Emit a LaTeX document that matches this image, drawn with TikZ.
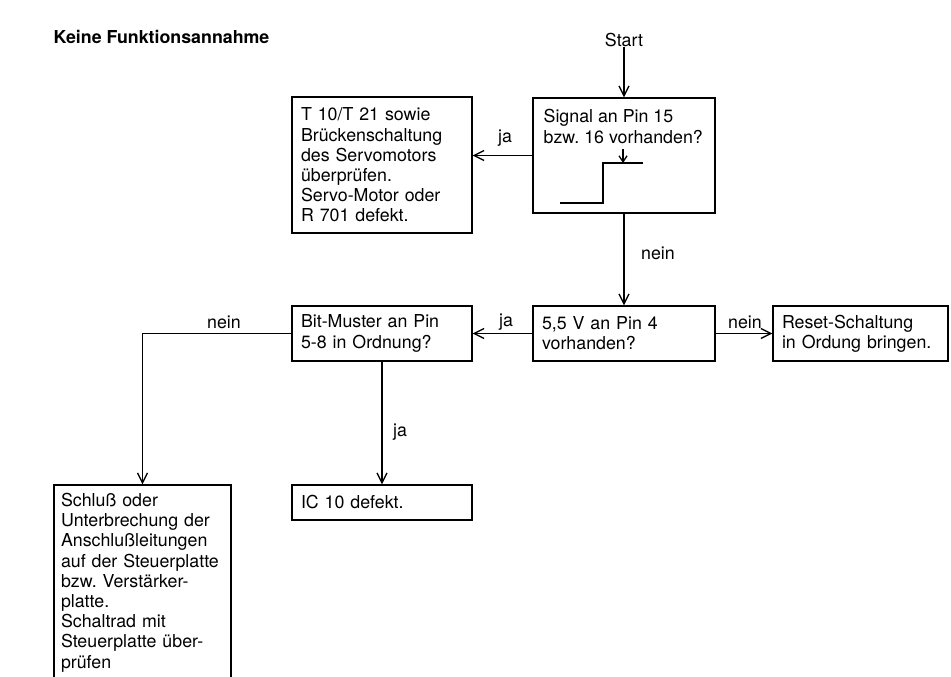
\documentclass[tikz,border=0pt]{standalone}
\usepackage{fontspec}
\setmainfont{TeX Gyre Heros}
\frenchspacing
\usetikzlibrary{arrows.meta,positioning}
\tikzset{
  >={Straight Barb[length=10pt,width=10pt]},
  line cap=round,
  line join=round,
  every picture/.style={line width=1.3pt},
  txt/.style={font=\fontsize{17.8}{20.2}\selectfont},
  box/.style={draw, txt, rectangle, inner xsep=9pt, inner ysep=0pt, align=left},
  lbl/.style={txt, inner sep=0pt},
  arrow/.style={->}
}

\begin{document}
\begin{tikzpicture}[x=1pt, y=-1pt]
  \useasboundingbox (0,0) rectangle (951,677);
  \clip (0,0) rectangle (951,677);

  \node[lbl, anchor=west, font={\fontsize{17.8}{20.2}\selectfont\bfseries}] (titel) at (53,37) {Keine Funktionsannahme};
  \node[lbl] (start) at (624,40) {Start};

  % Zeile 1
  \node[box, minimum width=182pt, minimum height=115pt] (signal) at (624,155.5) {};
  \node[lbl, anchor=north west, align=left] (signaltxt) at (543,109) {Signal an Pin 15\\bzw. 16 vorhanden?};
  \node[box, text width=162pt, minimum height=136pt] (servo) at (382,165)
    {T 10/T 21 sowie\\Brückenschaltung\\des Servomotors\\überprüfen.\\Servo-Motor oder\\R 701 defekt.};

  % Impuls im Signalkasten
  \draw (560,203) -- (603,203) -- (603,163) -- (643,163);
  \coordinate (flanke) at (623,163);
  \draw[->, >={Straight Barb[length=6pt,width=8pt]}] (623,149) -- (flanke);

  % Zeile 2
  \node[box, text width=164pt, minimum height=55pt] (spannung) at (624,333.5) {5,5 V an Pin 4\\vorhanden?};
  \node[box, text width=162pt, minimum height=55pt] (bitmuster) at (382,333.5) {Bit-Muster an Pin\\5-8 in Ordnung?};
  \node[box, text width=157pt, minimum height=55pt] (reset) at (860.5,333.5) {Reset-Schaltung\\in Ordung bringen.};

  % Zeile 3
  \node[box, text width=162pt, minimum height=35pt] (icdef) at (382,502.5) {IC 10 defekt.};
  \node[box, inner xsep=7pt, text width=163pt, minimum height=195pt] (schluss) at (142.5,582.5)
    {Schluß oder\\Unterbrechung der\\Anschlußleitungen\\auf der Steuerplatte\\bzw. Verstärker-\\platte.\\Schaltrad mit\\Steuerplatte über-\\prüfen};

  % Verbindungen
  \draw[arrow] (start) -- (signal);
  \draw[arrow] (signal.west) -- (signal.west -| servo.east);
  \node[lbl] (ja1) at (505,138) {ja};
  \draw[arrow] (signal) -- (spannung);
  \node[lbl] (nein1) at (658,253) {nein};
  \draw[arrow] (spannung) -- (bitmuster);
  \node[lbl] (ja2) at (506,322) {ja};
  \draw[arrow] (spannung) -- (reset);
  \node[lbl] (nein2) at (745,322) {nein};
  \draw[arrow] (bitmuster.west) -| (schluss.north);
  \node[lbl] (nein3) at (224,322) {nein};
  \draw[arrow] (bitmuster) -- (icdef);
  \node[lbl] (ja3) at (400,432) {ja};
\end{tikzpicture}
\end{document}
